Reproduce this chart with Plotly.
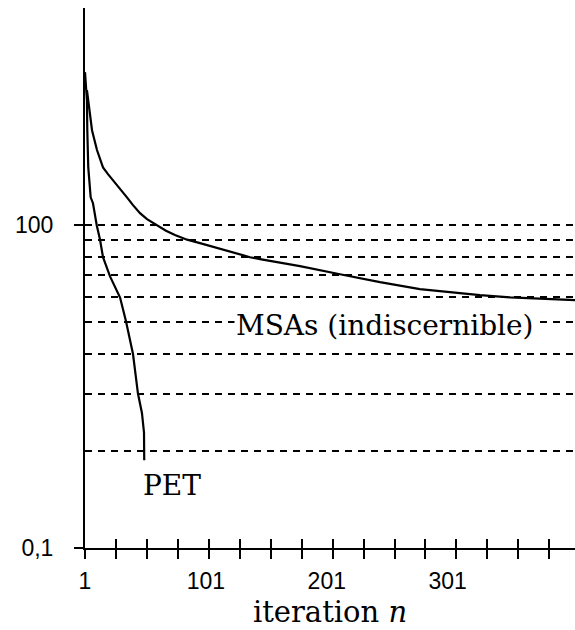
import plotly.graph_objects as go

# Data
msa_n = [2.6, 3.5, 6.8, 10.9, 15.9, 20.0, 24.2, 29.9, 35.7, 40.7, 46.5, 52.3,
         60.6, 68.0, 75.4, 85.4, 96.1, 116.8, 137.5, 145.7, 178.8, 211.9,
         245, 278, 302.9, 327.7, 352.5, 381.5, 406.3]
msa_v = [262, 244, 197, 171, 151, 144, 138, 129.4, 122, 115.4, 109, 104.4,
         100, 96.2, 93.2, 90.2, 88.0, 83.7, 79.6, 78.5, 74.7, 70.5,
         66.6, 63.4, 62.0, 60.7, 59.8, 59.0, 58.6]

pet_n = [1, 2.6, 2.9, 3.7, 5.7, 7.6, 10.7, 13.4, 15.9, 21.7, 30, 34.9, 40.7,
         44.8, 48.1, 49.8, 50]
pet_v = [298, 244, 197, 151, 122, 117, 100, 90.3, 79.6, 69.4, 59.7, 50.4, 39.9,
         30.1, 26.2, 22.8, 18.7]

x_tick_vals = [1, 101, 201, 301]
x_tick_text = ["1", "101", "201", "301"]
y_tick_vals = [10, 100]
y_tick_text = ["0,1", "100"]
y_grid_vals = [20, 30, 40, 50, 60, 70, 80, 90, 100]

x_range = [1, 406.3]
y_range = [1, 2.673]
minor_step = 25.6

fig = go.Figure()
fig.add_trace(go.Scatter(x=msa_n, y=msa_v, mode="lines",
                         line=dict(color="black", width=2.2), hoverinfo="skip"))
fig.add_trace(go.Scatter(x=pet_n, y=pet_v, mode="lines",
                         line=dict(color="black", width=2.2), hoverinfo="skip"))
# invisible helper traces to carry the overlay axes
fig.add_trace(go.Scatter(x=[x_range[0]], y=[100], mode="markers", opacity=0,
                         xaxis="x2", hoverinfo="skip"))
fig.add_trace(go.Scatter(x=[x_range[0]], y=[100], mode="markers", opacity=0,
                         xaxis="x3", hoverinfo="skip"))

serif = "DejaVu Serif"
sans = "Liberation Sans, Arial, sans-serif"

fig.update_layout(
    width=575, height=630,
    margin=dict(l=85, r=0, t=8, b=82),
    paper_bgcolor="white", plot_bgcolor="white",
    showlegend=False,
    font=dict(family=sans, size=23, color="black"),
    xaxis=dict(
        range=x_range, tickmode="linear", tick0=1, dtick=minor_step,
        ticks="outside", ticklen=9, tickwidth=2, tickcolor="black",
        showticklabels=False, showline=True, linewidth=2, linecolor="black",
        showgrid=False, zeroline=False,
    ),
    xaxis2=dict(
        range=x_range, overlaying="x", anchor="y", side="bottom",
        tickmode="linear", tick0=1, dtick=minor_step,
        ticks="inside", ticklen=9, tickwidth=2, tickcolor="black",
        showticklabels=False, showline=False, showgrid=False, zeroline=False,
    ),
    xaxis3=dict(
        range=x_range, overlaying="x", anchor="y", side="bottom",
        tickmode="array", tickvals=x_tick_vals, ticktext=x_tick_text,
        ticks="", showline=False, showgrid=False, zeroline=False,
        ticklabelstandoff=17,
        tickfont=dict(family=sans, size=23, color="black"),
        title=dict(text="iteration <i>n</i>", standoff=8,
                   font=dict(family=serif, size=29, color="black")),
    ),
    yaxis=dict(
        type="log", range=y_range,
        tickmode="array", tickvals=y_tick_vals, ticktext=y_tick_text,
        ticks="outside", ticklen=9, tickwidth=2, tickcolor="black",
        ticklabelstandoff=16,
        showline=True, linewidth=2, linecolor="black",
        showgrid=True, gridcolor="black", gridwidth=2, griddash="7px,6px",
        minor=dict(tickmode="array", tickvals=y_grid_vals, ticks="",
                   showgrid=True, gridcolor="black", gridwidth=2,
                   griddash="7px,6px"),
        zeroline=False,
    ),
    annotations=[
        dict(x=249, y=1.69, xref="x", yref="y", text="MSAs (indiscernible)",
             showarrow=False, bgcolor="white",
             font=dict(family=serif, size=28, color="black")),
        dict(x=73, y=1.194, xref="x", yref="y", text="PET",
             showarrow=False,
             font=dict(family=serif, size=28, color="black")),
    ],
)

fig.write_html("out.html")
